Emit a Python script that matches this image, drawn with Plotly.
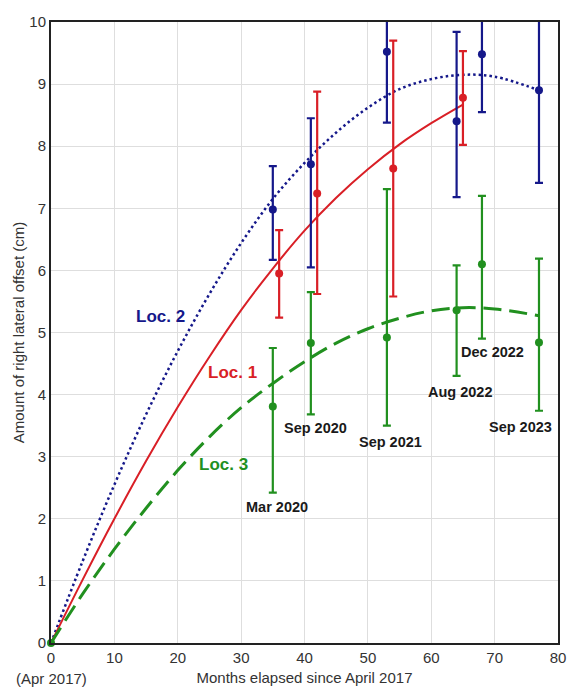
import plotly.graph_objects as go

# Measured offsets (months since April 2017, offset in cm, lower/upper bounds)
loc2_months = [35, 41, 53, 64, 68, 77]
loc2_offset = [6.98, 7.71, 9.52, 8.40, 9.48, 8.90]
loc2_low = [6.17, 6.05, 8.38, 7.18, 8.55, 7.41]
loc2_high = [7.68, 8.45, 10.66, 9.84, 10.41, 10.39]

loc1_months = [36, 42, 54, 65]
loc1_offset = [5.95, 7.24, 7.64, 8.78]
loc1_low = [5.24, 5.62, 5.58, 8.02]
loc1_high = [6.65, 8.88, 9.70, 9.53]

loc3_months = [35, 41, 53, 64, 68, 77]
loc3_offset = [3.81, 4.83, 4.92, 5.36, 6.10, 4.84]
loc3_low = [2.42, 3.68, 3.50, 4.30, 4.90, 3.74]
loc3_high = [4.75, 5.65, 7.31, 6.08, 7.20, 6.19]

survey_labels = ["Mar 2020", "Sep 2020", "Sep 2021", "Aug 2022", "Dec 2022", "Sep 2023"]

# Trend curves (months, offset in cm)
loc2_fit_x = [0, 5, 10, 15, 20, 25, 30, 35, 40, 45, 50, 55, 60, 65, 70, 77]
loc2_fit_y = [0, 1.32, 2.55, 3.68, 4.70, 5.62, 6.44, 7.15, 7.73, 8.22, 8.62, 8.92, 9.08, 9.15, 9.12, 8.90]
loc1_fit_x = [0, 5, 10, 15, 20, 25, 30, 35, 40, 45, 50, 55, 60, 65]
loc1_fit_y = [0, 1.02, 2.00, 2.93, 3.80, 4.61, 5.36, 6.03, 6.64, 7.17, 7.63, 8.03, 8.37, 8.67]
loc3_fit_x = [0, 5, 10, 15, 20, 25, 30, 35, 40, 45, 50, 55, 60, 65, 70, 77]
loc3_fit_y = [0, 0.79, 1.51, 2.17, 2.78, 3.32, 3.79, 4.18, 4.53, 4.83, 5.06, 5.23, 5.35, 5.40, 5.38, 5.27]

BLUE = "#15188a"
RED = "#d91f26"
GREEN = "#21901f"
FONT = "Liberation Sans, Arial, sans-serif"


def err(vals, low, high):
    plus = [h - v for v, h in zip(vals, high)]
    minus = [v - l for v, l in zip(vals, low)]
    return plus, minus


fig = go.Figure()

# trend curves
fig.add_trace(go.Scatter(x=loc2_fit_x, y=loc2_fit_y, mode="lines", line_shape="spline",
                         line=dict(color=BLUE, width=2.5, dash="2.5px,3px"), showlegend=False))
fig.add_trace(go.Scatter(x=loc1_fit_x, y=loc1_fit_y, mode="lines", line_shape="spline",
                         line=dict(color=RED, width=2), showlegend=False))
fig.add_trace(go.Scatter(x=loc3_fit_x, y=loc3_fit_y, mode="lines", line_shape="spline",
                         line=dict(color=GREEN, width=3, dash="18px,8px"), showlegend=False))

# measurements with error bars
for months, vals, low, high, color in [
    (loc2_months, loc2_offset, loc2_low, loc2_high, BLUE),
    (loc1_months, loc1_offset, loc1_low, loc1_high, RED),
    (loc3_months, loc3_offset, loc3_low, loc3_high, GREEN),
]:
    plus, minus = err(vals, low, high)
    fig.add_trace(go.Scatter(
        x=months, y=vals, mode="markers",
        marker=dict(color=color, size=8),
        error_y=dict(type="data", symmetric=False, array=plus, arrayminus=minus,
                     color=color, thickness=2.2, width=4),
        showlegend=False, cliponaxis=True,
    ))

# starting point (April 2017)
fig.add_trace(go.Scatter(x=[0], y=[0], mode="markers",
                         marker=dict(color=GREEN, size=8), showlegend=False, cliponaxis=False))

annotations = []
# location labels
for text, x, y, color in [("Loc. 2", 17.3, 5.25, BLUE), ("Loc. 1", 28.7, 4.36, RED),
                          ("Loc. 3", 27.2, 2.87, GREEN)]:
    annotations.append(dict(x=x, y=y, text=f"<b>{text}</b>", showarrow=False,
                            font=dict(family=FONT, size=17, color=color)))

# survey dates
label_pos = [(35.6, 2.19), (41.7, 3.46), (53.5, 3.24), (64.5, 4.04), (69.7, 4.69), (74.1, 3.48)]
for text, (x, y) in zip(survey_labels, label_pos):
    annotations.append(dict(x=x, y=y, text=f"<b>{text}</b>", showarrow=False,
                            font=dict(family=FONT, size=14.5, color="#1a1a1a")))

annotations.append(dict(x=0, y=0, xref="x", yref="y", text="(Apr 2017)", showarrow=False,
                        yshift=-35, font=dict(family=FONT, size=15, color="#333333")))

fig.update_layout(
    width=571, height=687,
    margin=dict(l=51, r=13, t=22, b=44),
    paper_bgcolor="white", plot_bgcolor="white",
    font=dict(family=FONT, size=15, color="#333333"),
    annotations=annotations,
    xaxis=dict(range=[0, 80], tickmode="linear", tick0=0, dtick=10, automargin=False,
               showgrid=True, gridcolor="#dedede", gridwidth=1,
               showline=True, linecolor="#222222", linewidth=2, mirror=True,
               ticks="", zeroline=False,
               title=dict(text="Months elapsed since April 2017", standoff=7,
                          font=dict(size=15, color="#333333"))),
    yaxis=dict(range=[0, 10], tickmode="linear", tick0=0, dtick=1, automargin=False,
               showgrid=True, gridcolor="#dedede", gridwidth=1,
               showline=True, linecolor="#222222", linewidth=2, mirror=True,
               ticks="", zeroline=False,
               title=dict(text="Amount of right lateral offset (cm)", standoff=1,
                          font=dict(size=15, color="#333333"))),
)

fig.write_html("out.html")
